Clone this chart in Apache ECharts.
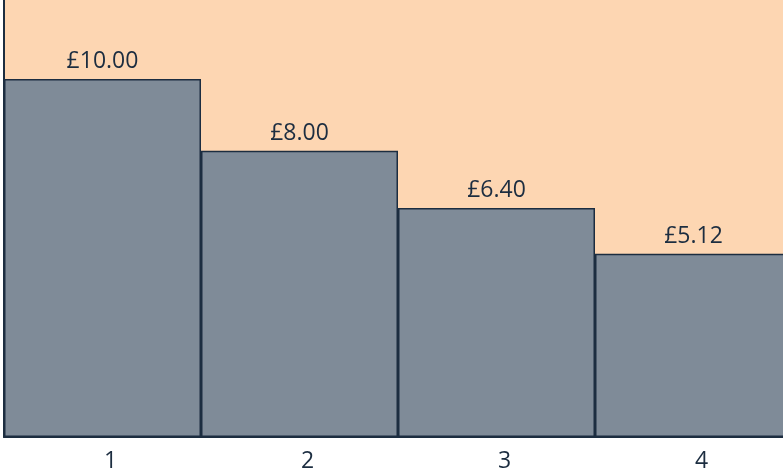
<!DOCTYPE html>
<html>
<head>
<meta charset="utf-8">
<script src="https://cdn.jsdelivr.net/npm/echarts@6/dist/echarts.min.js"></script>
<style>html,body{margin:0;padding:0;background:#fff}#c{width:783px;height:473px}</style>
</head>
<body>
<div id="c"></div>
<script>
const categories = ['1', '2', '3', '4'];
const values = [10.00, 8.00, 6.40, 5.12];
const valueLabels = ['£10.00', '£8.00', '£6.40', '£5.12'];

const chart = echarts.init(document.getElementById('c'));
chart.setOption({
  animation: false,
  backgroundColor: '#ffffff',
  grid: {
    left: 4, width: 788, top: 0, bottom: 36,
    outerBoundsMode: 'none', containLabel: false,
    show: true, backgroundColor: '#FDD6B2', borderWidth: 0
  },
  xAxis: {
    type: 'category',
    data: categories,
    axisLine: { show: true, lineStyle: { color: '#1C2D40', width: 2 } },
    axisTick: { show: false },
    axisLabel: {
      color: '#1C2D40', fontFamily: 'Open Sans', fontSize: 23, margin: 13,
      padding: [0, 0, 0, 16]
    }
  },
  yAxis: {
    type: 'value', min: 0, max: 12.21,
    axisLine: { show: true, lineStyle: { color: '#1C2D40', width: 2 } },
    axisTick: { show: false }, axisLabel: { show: false }, splitLine: { show: false }
  },
  series: [{
    type: 'bar',
    data: values,
    barCategoryGap: '0%',
    itemStyle: { color: '#7F8B98', borderColor: '#1C2D40', borderWidth: 1.5 },
    label: {
      show: true, position: 'top', distance: 6,
      color: '#1C2D40', fontFamily: 'Open Sans', fontSize: 23,
      formatter: p => valueLabels[p.dataIndex]
    }
  }]
});
</script>
</body>
</html>
